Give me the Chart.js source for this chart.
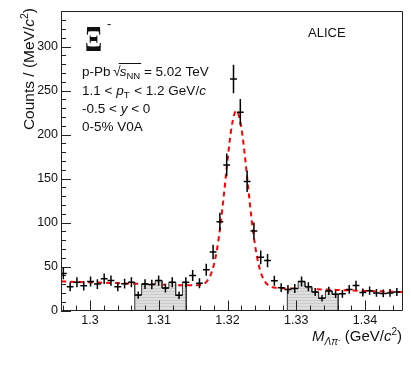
<!DOCTYPE html>
<html>
<head>
<meta charset="utf-8">
<script src="https://cdn.jsdelivr.net/npm/chart.js@4.4.0/dist/chart.umd.min.js"></script>
<style>
  body { margin: 0; background: #fff; }
</style>
</head>
<body>
<canvas id="myChart" width="411" height="365"></canvas>
<script>
// Xi- invariant mass peak, p-Pb 5.02 TeV

// first bin centre and bin width (GeV/c^2)
const firstBin = 1.29612;
const binWidth = 0.00099;

// counts per bin
const counts = [42, 27, 32, 28, 33, 30, 36, 34, 27, 30.5,
  32, 17.5, 30, 29.5, 34, 25.5, 32, 17.3, 32, 39.8,
  31, 46.2, 66.5, 101, 165.5, 263, 225.4, 146.7, 90.4, 60.4,
  56.7, 33.8, 26, 24, 25, 33, 27, 21, 14, 22.2,
  18.5, 19, 24, 28.5, 20.4, 22.5, 20, 19.4, 20, 21];
const errors = [6.5, 5.2, 5.7, 5.3, 5.7, 5.5, 6.0, 5.8, 5.2, 5.5,
  5.7, 4.2, 5.5, 5.4, 5.8, 5.0, 5.7, 4.2, 5.7, 6.3,
  5.6, 6.8, 8.2, 10.0, 12.9, 16.2, 15.0, 12.1, 9.5, 7.8,
  7.5, 5.8, 5.1, 4.9, 5.0, 5.7, 5.2, 4.6, 3.7, 4.7,
  4.3, 4.4, 4.9, 5.3, 4.5, 4.7, 4.5, 4.4, 4.5, 4.6];

// red dashed fit curve
const fitMass = [1.2958, 1.300, 1.305, 1.310, 1.314, 1.316, 1.3165, 1.317, 1.3175, 1.318,
  1.3185, 1.319, 1.3195, 1.320, 1.3205, 1.321, 1.3213, 1.3215, 1.322, 1.3225,
  1.323, 1.3235, 1.324, 1.3245, 1.325, 1.3255, 1.326, 1.3265, 1.327, 1.330,
  1.335, 1.340, 1.3454];
const fitCounts = [33.0, 32.0, 30.8, 29.6, 28.6, 28.9, 30.2, 33.2, 39.6, 51.4,
  70.8, 98.6, 133.5, 170.9, 203.5, 223.4, 226.8, 225.2, 208.5, 177.6,
  140.3, 104.0, 74.4, 53.2, 39.8, 32.3, 28.4, 26.6, 25.8, 24.8,
  23.6, 22.3, 21.0];

// shaded sideband ranges
const sideLeft = [1.3065, 1.3140];
const sideRight = [1.3287, 1.3361];

const xTicks = [1.30, 1.31, 1.32, 1.33, 1.34];
const yTicks = [0, 50, 100, 150, 200, 250, 300];

const SANS = '"Liberation Sans", Arial, sans-serif';

function sideband(range) {
  const pts = [{x: range[0], y: 0}];
  counts.forEach((c, i) => {
    const lo = firstBin + (i - 0.5) * binWidth;
    const hi = lo + binWidth;
    if (hi <= range[0] || lo >= range[1]) return;
    pts.push({x: Math.max(lo, range[0]), y: c});
    pts.push({x: Math.min(hi, range[1]), y: c});
  });
  pts.push({x: range[1], y: 0});
  return pts;
}

// draw a run of differently styled pieces, returns end x
function runs(ctx, x, y, parts, measureOnly) {
  parts.forEach(p => {
    ctx.font = p[1];
    if (!measureOnly) ctx.fillText(p[0], x, y + (p[2] || 0));
    x += ctx.measureText(p[0]).width + (p[3] || 0);
  });
  return x;
}

const canvas = document.getElementById("myChart");
const ctx = canvas.getContext("2d");

// light grey hatch for the sidebands
const pc = document.createElement("canvas");
pc.width = 4; pc.height = 3;
const pctx = pc.getContext("2d");
pctx.fillStyle = "#dedede"; pctx.fillRect(0, 0, 4, 3);
pctx.fillStyle = "#cbcbcb"; pctx.fillRect(0, 0, 4, 1);
const hatch = ctx.createPattern(pc, "repeat");

const framePlugin = {
  id: "frame",
  afterDatasetsDraw(chart) {
    const c = chart.ctx, ca = chart.chartArea, x = chart.scales.x, y = chart.scales.y;
    c.save();
    c.strokeStyle = "#222";
    c.lineWidth = 1;
    c.beginPath();
    c.rect(Math.round(ca.left) + 0.5, Math.round(ca.top) + 0.5,
      Math.round(ca.right - ca.left) - 1, Math.round(ca.bottom - ca.top) - 1);
    // x ticks every 0.002, major every 0.01
    for (let k = 648; k <= 673; k++) {
      const v = k * 0.002;
      if (v < x.min || v > x.max) continue;
      const px = Math.round(x.getPixelForValue(v)) + 0.5;
      const len = k % 5 === 0 ? 10 : 5;
      c.moveTo(px, ca.bottom); c.lineTo(px, ca.bottom - len);
    }
    // y ticks every 10, major every 50
    for (let v = 0; v <= y.max; v += 10) {
      const py = Math.round(y.getPixelForValue(v)) + 0.5;
      const len = v % 50 === 0 ? 10 : 5;
      c.moveTo(ca.left, py); c.lineTo(ca.left + len, py);
    }
    c.stroke();
    c.restore();
  }
};

const crossPlugin = {
  id: "crosses",
  afterDatasetsDraw(chart) {
    const c = chart.ctx, ca = chart.chartArea, x = chart.scales.x, y = chart.scales.y;
    c.save();
    c.strokeStyle = "#000";
    c.lineWidth = 1.5;
    c.beginPath();
    counts.forEach((n, i) => {
      const m = firstBin + i * binWidth;
      const px = x.getPixelForValue(m), py = y.getPixelForValue(n);
      const x0 = Math.max(x.getPixelForValue(m - binWidth / 2), ca.left);
      const x1 = Math.min(x.getPixelForValue(m + binWidth / 2), ca.right);
      c.moveTo(x0, py); c.lineTo(x1, py);
      c.moveTo(px, y.getPixelForValue(n - errors[i]));
      c.lineTo(px, y.getPixelForValue(n + errors[i]));
    });
    c.stroke();
    c.restore();
  }
};

const textPlugin = {
  id: "texts",
  afterDraw(chart) {
    const c = chart.ctx;
    c.save();
    c.fillStyle = "#111";
    c.textBaseline = "alphabetic";
    c.textAlign = "left";

    // Xi-
    c.save();
    c.scale(0.7, 1);
    c.font = 'bold 36px "Liberation Serif", serif';
    c.fillText("Ξ", 85 / 0.7, 51);
    c.restore();
    c.font = "13px " + SANS;
    c.fillText("-", 107, 28);

    // ALICE
    c.font = "13px " + SANS;
    c.fillText("ALICE", 308, 37);

    const f = "13.5px " + SANS, fi = "italic 13.5px " + SANS, fs = "9.5px " + SANS;
    // line 1 with sqrt(s_NN)
    let xx = runs(c, 82, 76, [["p-Pb ", f]]);
    xx = runs(c, xx - 1, 76, [["√", f, 0, -1]]);
    const s0 = xx;
    xx = runs(c, xx, 76, [["s", fi], ["NN", fs, 3]]);
    c.fillRect(s0 - 1, 63, xx - s0 + 2, 1);
    runs(c, xx, 76, [[" = 5.02 TeV", f]]);
    // line 2
    runs(c, 82, 94.5, [["1.1 < ", f], ["p", fi], ["T", fs, 3, 1], [" < 1.2 GeV/", f], ["c", fi]]);
    // line 3
    runs(c, 82, 113, [["-0.5 < ", f], ["y", fi], [" < 0", f]]);
    // line 4
    runs(c, 82, 131, [["0-5% V0A", f]]);

    // x title, right aligned
    const xt = [["M", "italic 15px " + SANS], ["Λπ", "italic 10px " + SANS, 4], ["-", "8px " + SANS, 1],
      [" (GeV/", "15px " + SANS], ["c", "italic 15px " + SANS], ["2", "10px " + SANS, -6], [")", "15px " + SANS]];
    const w = runs(c, 0, 0, xt, true);
    runs(c, 402 - w, 341, xt);

    // y title, rotated, top aligned
    const yt = [["Counts / (MeV/", "15.5px " + SANS], ["c", "italic 15.5px " + SANS], ["2", "10.5px " + SANS, -6], [")", "15.5px " + SANS]];
    const wy = runs(c, 0, 0, yt, true);
    c.translate(34, 8 + wy);
    c.rotate(-Math.PI / 2);
    runs(c, 0, 0, yt);
    c.restore();
  }
};

const myChart = new Chart(ctx, {
  type: "scatter",
  data: {
    datasets: [
      {
        type: "line",
        data: sideband(sideLeft),
        borderColor: "#3a3a3a",
        borderWidth: 1,
        backgroundColor: hatch,
        fill: "origin",
        pointRadius: 0,
        tension: 0,
      },
      {
        type: "line",
        data: sideband(sideRight),
        borderColor: "#3a3a3a",
        borderWidth: 1,
        backgroundColor: hatch,
        fill: "origin",
        pointRadius: 0,
        tension: 0,
      },
      {
        type: "line",
        data: fitMass.map((m, i) => ({x: m, y: fitCounts[i]})),
        borderColor: "#ff0000",
        borderWidth: 2,
        borderDash: [5, 4],
        pointRadius: 0,
        fill: false,
        cubicInterpolationMode: "monotone",
      },
      {
        data: counts.map((n, i) => ({x: firstBin + i * binWidth, y: n})),
        pointRadius: 0,
      },
    ],
  },
  options: {
    responsive: false,
    animation: false,
    devicePixelRatio: 1,
    layout: { padding: { top: 7, right: 8.5, left: 0, bottom: 0 } },
    plugins: { legend: { display: false }, tooltip: { enabled: false } },
    scales: {
      x: {
        type: "linear",
        min: 1.29578,
        max: 1.34545,
        grid: { display: false, drawTicks: false },
        border: { display: false },
        afterBuildTicks: (s) => { s.ticks = xTicks.map((v) => ({ value: v })); },
        afterFit: (s) => { s.height = 54.5; },
        ticks: {
          padding: 3,
          color: "#111",
          maxRotation: 0,
          autoSkip: false,
          font: { family: SANS, size: 12.5 },
          callback: (v) => String(+Number(v).toFixed(2)),
        },
      },
      y: {
        min: 0,
        max: 341,
        grid: { display: false, drawTicks: false },
        border: { display: false },
        afterBuildTicks: (s) => { s.ticks = yTicks.map((v) => ({ value: v })); },
        afterFit: (s) => { s.width = 61; },
        ticks: {
          padding: 3,
          color: "#111",
          font: { family: SANS, size: 12.5 },
        },
      },
    },
  },
  plugins: [framePlugin, crossPlugin, textPlugin],
});
</script>
</body>
</html>
